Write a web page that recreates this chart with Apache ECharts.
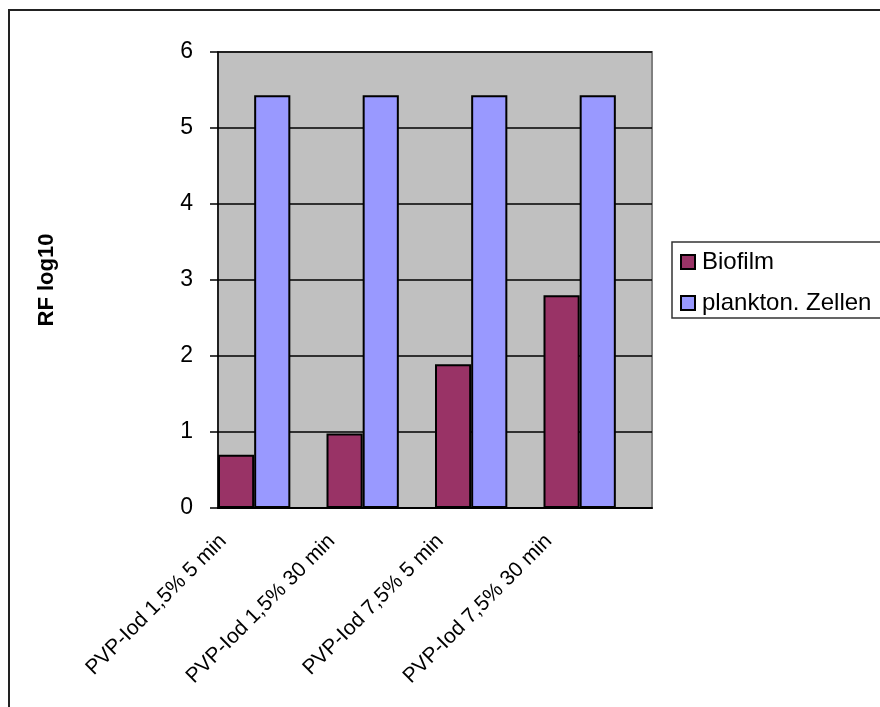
<!DOCTYPE html>
<html>
<head>
<meta charset="utf-8">
<script src="https://cdn.jsdelivr.net/npm/echarts@6/dist/echarts.min.js"></script>
<style>
  html, body { margin: 0; padding: 0; background: #ffffff; }
  #chart { width: 880px; height: 707px; }
</style>
</head>
<body>
<div id="chart"></div>
<script>
// Treatment groups on the x axis
const categories = ['PVP-Iod 1,5% 5 min', 'PVP-Iod 1,5% 30 min', 'PVP-Iod 7,5% 5 min', 'PVP-Iod 7,5% 30 min'];
// Reduction factors (log10)
const biofilm = [0.7, 0.98, 1.89, 2.8];
const plankton = [5.43, 5.43, 5.43, 5.43];
const seriesNames = ['Biofilm', 'plankton. Zellen'];
const yTicks = [0, 1, 2, 3, 4, 5, 6];

const FONT = '"Liberation Sans", Arial, sans-serif';

const chart = echarts.init(document.getElementById('chart'), null, { renderer: 'canvas' });

const barBorder = { borderColor: '#000000', borderWidth: 2 };

chart.setOption({
  animation: false,
  backgroundColor: '#ffffff',
  textStyle: { fontFamily: FONT },
  grid: [
    // plot area
    {
      left: 218, right: 228, top: 52, bottom: 199,
      show: true,
      backgroundColor: '#c0c0c0',
      borderColor: '#808080',
      borderWidth: 2
    },
    // category label strip, set slightly left so the slanted text ends under the bar pairs
    { left: 169, right: 277, top: 52, bottom: 199, show: false }
  ],
  legend: {
    orient: 'vertical',
    left: 680, top: 250,
    icon: 'rect',
    itemWidth: 14, itemHeight: 14,
    itemGap: 17,
    padding: 0,
    textStyle: { fontFamily: FONT, fontSize: 24, color: '#000', padding: [0, 0, 0, 2] },
    data: seriesNames
  },
  xAxis: [
    {
      type: 'category',
      gridIndex: 0,
      data: categories,
      axisLine: { show: true, lineStyle: { color: '#000', width: 2 } },
      axisTick: { show: false },
      axisLabel: { show: false },
      splitLine: { show: false }
    },
    {
      type: 'category',
      gridIndex: 1,
      data: categories,
      axisLine: { show: false },
      axisTick: { show: false },
      axisLabel: {
        interval: 0, rotate: 45, margin: 30,
        fontFamily: FONT, fontSize: 21, color: '#000'
      },
      splitLine: { show: false }
    }
  ],
  yAxis: [
    {
      type: 'value',
      gridIndex: 0,
      min: yTicks[0], max: yTicks[yTicks.length - 1], interval: 1,
      name: 'RF log10',
      nameLocation: 'middle',
      nameGap: 160,
      nameRotate: 90,
      nameTextStyle: { fontFamily: FONT, fontSize: 22, fontWeight: 'bold', color: '#000' },
      axisLine: { show: true, lineStyle: { color: '#000', width: 1.5 } },
      axisTick: { show: true, inside: false, length: 8, lineStyle: { color: '#000', width: 1.5 } },
      axisLabel: { margin: 25, fontFamily: FONT, fontSize: 23, color: '#000' },
      splitLine: { show: true, lineStyle: { color: '#000', width: 1.5 } }
    },
    {
      type: 'value', gridIndex: 1, show: false,
      min: yTicks[0], max: yTicks[yTicks.length - 1], interval: 1,
      splitLine: { show: false }
    }
  ],
  series: [
    {
      name: seriesNames[0], type: 'bar', data: biofilm,
      barGap: '0%', barCategoryGap: '0%',
      itemStyle: Object.assign({ color: '#993366' }, barBorder)
    },
    {
      name: seriesNames[1], type: 'bar', data: plankton,
      barGap: '0%', barCategoryGap: '0%',
      itemStyle: Object.assign({ color: '#9999ff' }, barBorder)
    },
    // empty third slot: keeps the blank space to the right of each bar pair
    {
      name: 'spacer', type: 'bar', data: [],
      barGap: '0%', barCategoryGap: '0%', silent: true
    }
  ],
  graphic: [
    // outer chart frame (top and left edges visible)
    { type: 'polyline', silent: true,
      shape: { points: [[9, 720], [9, 10], [900, 10]] },
      style: { stroke: '#222', lineWidth: 2, fill: null } },
    // legend frame
    { type: 'rect', silent: true, z: -1,
      shape: { x: 672, y: 242, width: 230, height: 76 },
      style: { stroke: '#333', lineWidth: 1.5, fill: '#ffffff' } }
  ]
});
</script>
</body>
</html>
